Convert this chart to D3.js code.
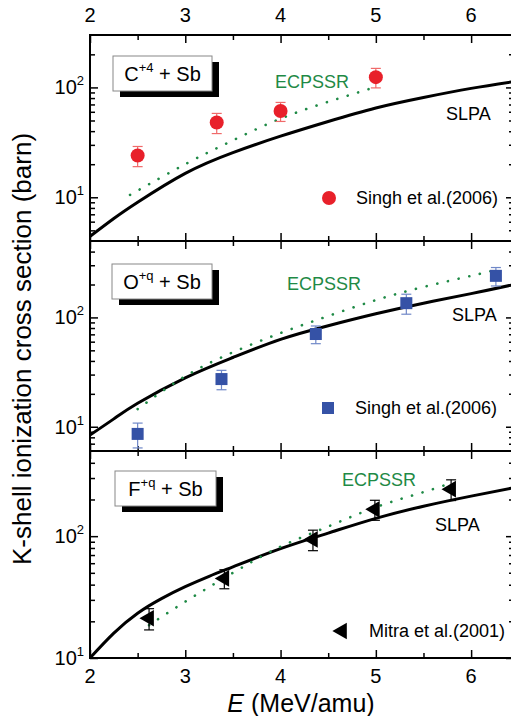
<!DOCTYPE html>
<html>
<head>
<meta charset="utf-8">
<script src="https://cdn.jsdelivr.net/npm/d3@7"></script>
<style>
  body { margin: 0; background: #fff; }
  text { font-family: Arial, "Liberation Sans", sans-serif; fill: #000; }
</style>
</head>
<body>
<div id="chart"></div>
<script>
// x axis (MeV/amu)
var xDomain = [2, 6.45];
var xTicks = [2, 3, 4, 5, 6];
var xMinor = [2.5, 3.5, 4.5, 5.5, 6.5];

// panel 1 : C+4 + Sb
var cDomain = [4, 300];
var cExpE = [2.5, 3.33, 4.0, 5.0];
var cExpVal = [24, 48, 61, 124];
var cExpErr = [5, 10, 12, 25];
var cSlpaE = [2, 2.25, 2.5, 3, 3.5, 4, 4.5, 5, 5.5, 6, 6.45];
var cSlpaVal = [4.4, 6.4, 9.0, 16.5, 25.5, 36, 49, 65, 81, 98, 113];
var cEcpE = [2.42, 3, 3.5, 4, 4.5, 5];
var cEcpVal = [10.5, 20, 33, 52, 74, 101];

// panel 2 : O+q + Sb
var oDomain = [6, 500];
var oExpE = [2.5, 3.38, 4.37, 5.32, 6.26];
var oExpVal = [8.6, 27.3, 70.5, 135, 240];
var oExpErr = [2.2, 5.5, 13, 28, 46];
var oSlpaE = [2, 2.25, 2.5, 3, 3.5, 4, 4.5, 5, 5.5, 6, 6.45];
var oSlpaVal = [8.4, 11.8, 16.4, 28, 43, 63, 84, 108, 135, 165, 200];
var oEcpE = [2.5, 3, 3.5, 4, 4.5, 5, 5.5, 6, 6.26];
var oEcpVal = [14.5, 29, 48, 72, 103, 144, 190, 240, 272];

// panel 3 : F+q + Sb
var fDomain = [10, 500];
var fExpE = [2.62, 3.41, 4.34, 4.99, 5.79];
var fExpVal = [21.2, 45, 94, 166, 243];
var fExpErr = [4.2, 8, 18, 31, 47];
var fSlpaE = [2, 2.25, 2.5, 2.75, 3, 3.25, 3.5, 4, 4.5, 5, 5.5, 6, 6.45];
var fSlpaVal = [10, 16.0, 23.3, 30.7, 38.5, 46.8, 56, 79, 106, 140, 176, 213, 250];
var fEcpE = [2.62, 3, 3.5, 4, 4.5, 5, 5.5, 5.8];
var fEcpVal = [18.6, 29, 50, 82, 120, 173, 230, 275];

var W = 511, H = 716;
var left = 90, right = 514;
var green = "#1f8a46";

var svg = d3.select("#chart").append("svg")
    .attr("width", W)
    .attr("height", H);

var x = d3.scaleLinear().domain(xDomain).range([left, right]);

var panels = [
  {top: 35, bottom: 241, domain: cDomain, ion: "C", charge: "+4",
   expE: cExpE, expVal: cExpVal, expErr: cExpErr, symbol: "circle", color: "#e8202a", errColor: "#f06a6a",
   slpaE: cSlpaE, slpaVal: cSlpaVal, ecpE: cEcpE, ecpVal: cEcpVal,
   box: [113, 56, 99, 35], ecpLab: [275, 88], slpaLab: [446, 120],
   legend: [329, 198], legendText: "Singh et al.(2006)"},
  {top: 241, bottom: 451, domain: oDomain, ion: "O", charge: "+q",
   expE: oExpE, expVal: oExpVal, expErr: oExpErr, symbol: "square", color: "#3552a6", errColor: "#7088c8",
   slpaE: oSlpaE, slpaVal: oSlpaVal, ecpE: oEcpE, ecpVal: oEcpVal,
   box: [112, 264, 100, 35], ecpLab: [287, 290], slpaLab: [452, 321],
   legend: [328, 408], legendText: "Singh et al.(2006)"},
  {top: 451, bottom: 658, domain: fDomain, ion: "F", charge: "+q",
   expE: fExpE, expVal: fExpVal, expErr: fExpErr, symbol: "triangle", color: "#000", errColor: "#000",
   slpaE: fSlpaE, slpaVal: fSlpaVal, ecpE: fEcpE, ecpVal: fEcpVal,
   box: [115, 471, 101, 35], ecpLab: [342, 486], slpaLab: [435, 531],
   legend: [342, 631], legendText: "Mitra et al.(2001)"}
];

panels.forEach(function(p, pi) {
    var y = d3.scaleLog().domain(p.domain).range([p.bottom, p.top]);
    var g = svg.append("g");

    // minor / major y ticks
    var lo = Math.floor(Math.log10(p.domain[0])), hi = Math.ceil(Math.log10(p.domain[1]));
    var yMajor = [], yMinor = [];
    for (var k = lo; k <= hi; k++) {
        var dec = Math.pow(10, k);
        if (dec >= p.domain[0] && dec <= p.domain[1]) yMajor.push(dec);
        for (var m = 2; m <= 9; m++) {
            var v = m * dec;
            if (v > p.domain[0] && v < p.domain[1]) yMinor.push(v);
        }
    }

    function tickAxis(axis, size, vals, tr) {
        var a = g.append("g")
            .attr("transform", tr)
            .call(axis.tickValues(vals).tickSize(size).tickFormat(""));
        a.select(".domain").remove();
        a.selectAll("line").attr("stroke", "#000").attr("stroke-width", 1.5);
    }
    tickAxis(d3.axisLeft(y), -8, yMajor, "translate(" + left + ",0)");
    tickAxis(d3.axisLeft(y), -5, yMinor, "translate(" + left + ",0)");
    tickAxis(d3.axisRight(y), -8, yMajor, "translate(" + right + ",0)");
    tickAxis(d3.axisRight(y), -5, yMinor, "translate(" + right + ",0)");
    tickAxis(d3.axisTop(x), -8, xTicks, "translate(0," + p.top + ")");
    tickAxis(d3.axisTop(x), -5, xMinor, "translate(0," + p.top + ")");
    tickAxis(d3.axisBottom(x), -8, xTicks, "translate(0," + p.bottom + ")");
    tickAxis(d3.axisBottom(x), -5, xMinor, "translate(0," + p.bottom + ")");

    // y tick labels 10^k
    yMajor.forEach(function(v) {
        var t = g.append("text")
            .attr("x", left - 6)
            .attr("y", y(v) + 7)
            .attr("text-anchor", "end")
            .style("font-size", "20px");
        t.append("tspan").text("10");
        t.append("tspan").attr("dy", -9).style("font-size", "13px").text(Math.round(Math.log10(v)));
    });

    var line = d3.line()
        .x(function(d) { return x(d[0]); })
        .y(function(d) { return y(d[1]); })
        .curve(d3.curveNatural);

    // clip to plot region
    var clipId = "clip" + pi;
    svg.append("clipPath").attr("id", clipId)
        .append("rect").attr("x", left).attr("y", p.top).attr("width", right - left).attr("height", p.bottom - p.top);

    // SLPA
    g.append("path")
        .datum(d3.zip(p.slpaE, p.slpaVal))
        .attr("clip-path", "url(#" + clipId + ")")
        .attr("d", line)
        .attr("fill", "none")
        .attr("stroke", "#000")
        .attr("stroke-width", 3);

    // ECPSSR
    g.append("path")
        .datum(d3.zip(p.ecpE, p.ecpVal))
        .attr("d", line)
        .attr("fill", "none")
        .attr("stroke", green)
        .attr("stroke-width", 2.6)
        .attr("stroke-linecap", "round")
        .attr("stroke-dasharray", "0.1,10.8");

    // experimental points with error bars
    var pts = d3.zip(p.expE, p.expVal, p.expErr);
    var eb = g.append("g").attr("stroke", p.errColor).attr("stroke-width", 1.2);
    pts.forEach(function(d) {
        var xx = x(d[0]), y1 = y(d[1] + d[2]), y2 = y(d[1] - d[2]);
        eb.append("line").attr("x1", xx).attr("x2", xx).attr("y1", y1).attr("y2", y2);
        eb.append("line").attr("x1", xx - 5).attr("x2", xx + 5).attr("y1", y1).attr("y2", y1);
        eb.append("line").attr("x1", xx - 5).attr("x2", xx + 5).attr("y1", y2).attr("y2", y2);
    });

    function drawSymbol(sel, cx, cy) {
        if (p.symbol === "circle") {
            sel.append("circle").attr("cx", cx).attr("cy", cy).attr("r", 7).attr("fill", p.color);
        } else if (p.symbol === "square") {
            sel.append("rect").attr("x", cx - 6).attr("y", cy - 6).attr("width", 12).attr("height", 12).attr("fill", p.color);
        } else {
            sel.append("path")
                .attr("d", d3.symbol(d3.symbolTriangle, 120)())
                .attr("transform", "translate(" + cx + "," + cy + ") rotate(-90)")
                .attr("fill", p.color);
        }
    }
    pts.forEach(function(d) { drawSymbol(g, x(d[0]), y(d[1])); });

    // legend
    drawSymbol(g, p.legend[0], p.legend[1]);
    g.append("text")
        .attr("x", p.legend[0] + 27)
        .attr("y", p.legend[1] + 6)
        .style("font-size", "18px")
        .text(p.legendText);

    // curve labels
    g.append("text")
        .attr("x", p.ecpLab[0]).attr("y", p.ecpLab[1])
        .style("font-size", "18px")
        .style("fill", green)
        .text("ECPSSR");
    g.append("text")
        .attr("x", p.slpaLab[0]).attr("y", p.slpaLab[1])
        .style("font-size", "18px")
        .text("SLPA");

    // ion box with shadow
    var b = p.box;
    g.append("rect").attr("x", b[0] + 7).attr("y", b[1] + 6).attr("width", b[2]).attr("height", b[3]).attr("fill", "#000");
    g.append("rect").attr("x", b[0]).attr("y", b[1]).attr("width", b[2]).attr("height", b[3])
        .attr("fill", "#fff").attr("stroke", "#888").attr("stroke-width", 1);
    var lt = g.append("text")
        .attr("x", b[0] + b[2] / 2)
        .attr("y", b[1] + 25)
        .attr("text-anchor", "middle")
        .style("font-size", "20px");
    lt.append("tspan").text(p.ion);
    lt.append("tspan").attr("dy", -9).style("font-size", "13px").text(p.charge);
    lt.append("tspan").attr("dy", 9).text(" + Sb");

    // frame
    g.append("rect")
        .attr("x", left).attr("y", p.top)
        .attr("width", right - left).attr("height", p.bottom - p.top)
        .attr("fill", "none").attr("stroke", "#000").attr("stroke-width", 2);
});

// top and bottom x labels
svg.append("g").selectAll("text").data(xTicks).join("text")
    .attr("x", function(d) { return x(d); })
    .attr("y", 22)
    .attr("text-anchor", "middle")
    .style("font-size", "20px")
    .text(function(d) { return d; });
svg.append("g").selectAll("text").data(xTicks).join("text")
    .attr("x", function(d) { return x(d); })
    .attr("y", 683)
    .attr("text-anchor", "middle")
    .style("font-size", "20px")
    .text(function(d) { return d; });

// axis titles
var xt = svg.append("text")
    .attr("x", 301)
    .attr("y", 712)
    .attr("text-anchor", "middle")
    .style("font-size", "25px");
xt.append("tspan").style("font-style", "italic").text("E");
xt.append("tspan").text(" (MeV/amu)");

svg.append("text")
    .attr("transform", "translate(31,349) rotate(-90)")
    .attr("text-anchor", "middle")
    .style("font-size", "26px")
    .text("K-shell ionization cross section (barn)");
</script>
</body>
</html>
